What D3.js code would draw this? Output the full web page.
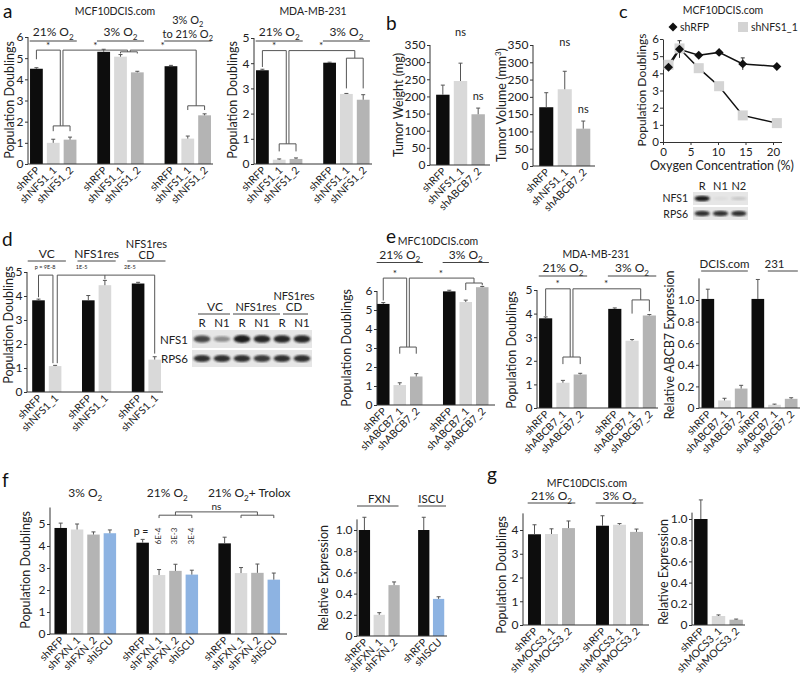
<!DOCTYPE html>
<html><head><meta charset="utf-8">
<script src="https://cdn.jsdelivr.net/npm/d3@7"></script>
<style>
body{margin:0;background:#fff;}
svg{font-family:Lato,"Open Sans",sans-serif;}
</style></head><body>
<svg id="fig" width="800" height="677"></svg>
<script>
// ---------------- DATA ----------------
// a: MCF10DCIS.com
const aMcfGroups = ["21% O2", "3% O2", "3% O2 to 21% O2"];
const aMcfCats = ["shRFP","shNFS1_1","shNFS1_2","shRFP","shNFS1_1","shNFS1_2","shRFP","shNFS1_1","shNFS1_2"];
const aMcfValues = [4.5, 1.0, 1.15, 5.3, 5.07, 4.33, 4.62, 1.2, 2.3];
const aMcfErrors = [0.05, 0.17, 0.12, 0.12, 0.1, 0.05, 0.04, 0.12, 0.07];
// a: MDA-MB-231
const aMdaGroups = ["21% O2", "3% O2"];
const aMdaCats = ["shRFP","shNFS1_1","shNFS1_2","shRFP","shNFS1_1","shNFS1_2"];
const aMdaValues = [3.72, 0.17, 0.2, 4.02, 2.78, 2.55];
const aMdaErrors = [0.04, 0.03, 0.04, 0.02, 0.02, 0.2];
// b
const bCats = ["shRFP","shNFS1_1","shABCB7_2"];
const bWeight = [205, 245, 148];
const bWeightErr = [28, 52, 18];
const bVolume = [170, 222, 108];
const bVolumeErr = [42, 52, 22];
const bWeightTicks = [0,50,100,150,200,250,300,350];
// c
const cOxygen = [1, 3, 6.5, 10.2, 14.5, 20.7];
const cShRFP = [4.35, 5.4, 5.05, 5.22, 4.55, 4.4];
const cShRFPErr = [0.08, 0.5, 0.1, 0.1, 0.35, 0.06];
const cShNFS1 = [4.5, 5.45, 4.3, 3.25, 1.55, 1.1];
const cShNFS1Err = [0.1, 0.2, 0.1, 0.1, 0.08, 0.06];
const cBlotLanes = ["R","N1","N2"];
const cBlotNFS1 = [1.0, 0.05, 0.15];
const cBlotRPS6 = [0.9, 0.9, 0.9];
// d
const dGroups = ["VC", "NFS1res", "NFS1res CD"];
const dCats = ["shRFP","shNFS1_1","shRFP","shNFS1_1","shRFP","shNFS1_1"];
const dValues = [3.82, 1.08, 3.82, 4.45, 4.52, 1.35];
const dErrors = [0.05, 0.03, 0.2, 0.2, 0.05, 0.12];
const dPvalues = ["p = 9E-8", "1E-5", "2E-5"];
const dBlotLanes = ["R","N1","R","N1","R","N1"];
const dBlotNFS1 = [0.8, 0.45, 1.0, 0.95, 0.95, 0.95];
const dBlotRPS6 = [0.9, 0.9, 0.9, 0.85, 0.9, 0.9];
// e
const eCats = ["shRFP","shABCB7_1","shABCB7_2","shRFP","shABCB7_1","shABCB7_2"];
const eMcfValues = [5.32, 1.05, 1.5, 5.98, 5.42, 6.2];
const eMcfErrors = [0.07, 0.12, 0.15, 0.06, 0.1, 0.04];
const eMdaValues = [3.8, 1.07, 1.42, 4.2, 2.85, 3.92];
const eMdaErrors = [0.06, 0.1, 0.05, 0.04, 0.05, 0.04];
const eExprGroups = ["DCIS.com", "231"];
const eExprValues = [1.01, 0.07, 0.18, 1.01, 0.03, 0.085];
const eExprErrors = [0.09, 0.02, 0.03, 0.18, 0.006, 0.01];
// f
const fGroups = ["3% O2", "21% O2", "21% O2+ Trolox"];
const fCats = ["shRFP","shFXN_1","shFXN_2","shISCU","shRFP","shFXN_1","shFXN_2","shISCU","shRFP","shFXN_1","shFXN_2","shISCU"];
const fValues = [4.82, 4.75, 4.52, 4.58, 4.15, 2.68, 2.87, 2.7, 4.12, 2.77, 2.78, 2.47];
const fErrors = [0.22, 0.25, 0.12, 0.15, 0.15, 0.25, 0.3, 0.2, 0.28, 0.25, 0.4, 0.3];
const fPvalues = ["6E-4", "3E-3", "3E-4"];
const fExprGroups = ["FXN", "ISCU"];
const fExprCats = ["shRFP","shFXN_1","shFXN_2","shRFP","shISCU"];
const fExprValues = [1.0, 0.2, 0.48, 1.0, 0.35];
const fExprErrors = [0.12, 0.02, 0.03, 0.12, 0.02];
// g
const gCats = ["shRFP","shMOCS3_1","shMOCS3_2","shRFP","shMOCS3_1","shMOCS3_2"];
const gValues = [3.82, 3.83, 4.08, 4.18, 4.22, 3.92];
const gErrors = [0.4, 0.22, 0.3, 0.42, 0.05, 0.12];
const gExprCats = ["shRFP","shMOCS3_1","shMOCS3_2"];
const gExprValues = [1.0, 0.085, 0.05];
const gExprErrors = [0.18, 0.01, 0.006];

// ---------------- HELPERS ----------------
const svg = d3.select("#fig");
const INK = "#333";
function colorOf(c){
  if (c === "shRFP") return "#0d0d0d";
  if (c === "shISCU") return "#8db3e2";
  if (/_1$/.test(c)) return "#d9d9d9";
  return "#b4b4b4";
}
function txt(x, y, s, size, anchor, g){
  return (g || svg).append("text").attr("x", x).attr("y", y).attr("font-size", size)
    .attr("text-anchor", anchor || "middle").attr("fill", "#222").text(s);
}
function o2(x, y, label, size){
  const idx = label.indexOf("O2");
  const t = svg.append("text").attr("x", x).attr("y", y).attr("font-size", size)
    .attr("text-anchor", "middle").attr("fill", "#222");
  if (idx < 0){ t.text(label); return t; }
  t.append("tspan").text(label.slice(0, idx + 1));
  t.append("tspan").attr("dy", size*0.3).attr("font-size", size*0.68).text("2");
  const rest = label.slice(idx + 2);
  if (rest) t.append("tspan").attr("dy", -size*0.3).text(rest);
  return t;
}
function hline(x1, x2, y){
  svg.append("line").attr("x1", x1).attr("x2", x2).attr("y1", y).attr("y2", y)
    .attr("stroke", "#444").attr("stroke-width", 1);
}
function ylabel(x, y, s, size){
  const t = svg.append("text").attr("transform", `translate(${x},${y}) rotate(-90)`)
    .attr("font-size", size || 12.5).attr("text-anchor", "middle").attr("fill", "#222");
  return t.text(s);
}
function letter(x, y, s, size){ txt(x, y, s, size || 19, "start").attr("fill", "#111"); }

function slotsFor(sizes, gap){
  const out = []; let s = 0;
  sizes.forEach(n => { for (let i = 0; i < n; i++) out.push(s++); s += gap; });
  return out;
}

function barChart(o){
  const nSlots = d3.max(o.slots) + 1;
  const x = d3.scaleLinear().domain([-0.5, nSlots - 0.5]).range(o.xr);
  const y = d3.scaleLinear().domain([0, o.yMax]).range([o.y0, o.yTop]);
  const step = x(1) - x(0), bw = step * (o.bwf || 0.76);
  const g = svg.append("g");
  g.selectAll("rect").data(o.values).join("rect")
    .attr("x", (d, i) => x(o.slots[i]) - bw/2).attr("y", d => y(d))
    .attr("width", bw).attr("height", d => y(0) - y(d))
    .attr("fill", (d, i) => colorOf(o.cats[i]));
  const eb = g.append("g").attr("stroke", "#555").attr("stroke-width", 1);
  o.values.forEach((v, i) => {
    const cx = x(o.slots[i]), yt = y(v + o.errors[i]);
    eb.append("line").attr("x1", cx).attr("x2", cx).attr("y1", y(v)).attr("y2", yt);
    eb.append("line").attr("x1", cx - 2).attr("x2", cx + 2).attr("y1", yt).attr("y2", yt);
  });
  const ax = d3.axisLeft(y).tickValues(o.ticks).tickSize(3).tickSizeOuter(0)
    .tickFormat(o.fmt || d3.format("d"));
  const axg = g.append("g").attr("transform", `translate(${o.axisX},0)`).call(ax);
  axg.select(".domain").remove();
  axg.attr("font-family", null).attr("font-size", null);
  axg.selectAll("text").attr("font-size", o.tickSize || 12).attr("fill", "#222").attr("x", -4.5);
  axg.selectAll("line").attr("stroke", INK);
  g.append("line").attr("x1", o.axisX).attr("x2", o.axisX).attr("y1", y(0)).attr("y2", y(o.axisTop || o.yMax)).attr("stroke", INK);
  g.append("line").attr("x1", o.axisX).attr("x2", o.axisEnd).attr("y1", y(0)).attr("y2", y(0)).attr("stroke", INK);
  g.selectAll("text.cat").data(o.cats).join("text").attr("class", "cat")
    .attr("transform", (d, i) => `translate(${x(o.slots[i]) + 4},${y(0) + 7}) rotate(-45)`)
    .attr("text-anchor", "end").attr("font-size", o.catSize || 10.5).attr("fill", "#222").text(d => d);
  if (o.ylabel) ylabel(o.ylx, o.yly, o.ylabel, o.ylSize);
  return {x, y, g};
}
function bracket(p, pts){
  svg.append("path").attr("d", d3.line().x(d => p.x(d[0])).y(d => p.y(d[1]))(pts))
    .attr("fill", "none").attr("stroke", "#555").attr("stroke-width", 1);
}
function star(p, s, v, label, size){
  txt(p.x(s), p.y(v) - 1.5, label || "*", size || 10);
}
const defs = svg.append("defs");
defs.append("filter").attr("id", "blur").append("feGaussianBlur").attr("stdDeviation", 1.1);
function blot(x0, x1, y0, y1, lanes, intens){
  svg.append("rect").attr("x", x0).attr("y", y0).attr("width", x1 - x0).attr("height", y1 - y0).attr("fill", "#e6e6e6");
  const w = (x1 - x0) / lanes.length;
  intens.forEach((v, i) => {
    svg.append("ellipse").attr("cx", x0 + w*(i + 0.5)).attr("cy", (y0 + y1)/2)
      .attr("rx", w*0.42).attr("ry", (y1 - y0)*0.22 * (0.5 + 0.5*v))
      .attr("fill", "#1a1a1a").attr("opacity", v).attr("filter", "url(#blur)");
  });
}

// ---------------- PANEL a ----------------
letter(3, 18, "a");
const aM = barChart({cats: aMcfCats, values: aMcfValues, errors: aMcfErrors,
  slots: slotsFor([3,3,3], 1), xr: [28, 213], y0: 164, yTop: 37, yMax: 6,
  ticks: [0,1,2,3,4,5,6], axisX: 28, axisEnd: 213,
  ylabel: "Population Doublings", ylx: 14, yly: 100});
txt(115, 15, "MCF10DCIS.com", 10.5);
o2(aM.x(1), 36, aMcfGroups[0], 12); hline(aM.x(-0.4), aM.x(2.4), 41);
o2(aM.x(5), 36, aMcfGroups[1], 12); hline(aM.x(3.6), aM.x(6.4), 41);
o2(aM.x(9), 24, "3% O2", 11); o2(aM.x(9), 37.5, "to 21% O2", 11); hline(aM.x(7.6), aM.x(10.4), 41);
const aTop = 5.38;
bracket(aM, [[0,4.95],[0,aTop],[1.42,aTop],[1.42,1.8]]);
bracket(aM, [[1,1.55],[1,1.8],[2,1.8],[2,1.55]]);
star(aM, 0.7, aTop);
bracket(aM, [[1.58,1.8],[1.58,aTop],[5.42,aTop],[5.42,5.3]]);
bracket(aM, [[5,5.22],[5,5.3],[6,5.3],[6,5.22]]);
star(aM, 3.5, aTop);
bracket(aM, [[5.58,5.3],[5.58,aTop],[9.5,aTop],[9.5,2.75]]);
bracket(aM, [[9,2.55],[9,2.75],[10,2.75],[10,2.55]]);
star(aM, 7.5, aTop);

const aD = barChart({cats: aMdaCats, values: aMdaValues, errors: aMdaErrors,
  slots: slotsFor([3,3], 1), xr: [254, 371.6], y0: 164, yTop: 38, yMax: 5,
  ticks: [0,1,2,3,4,5], axisX: 254, axisEnd: 372,
  ylabel: "Population Doublings", ylx: 237, yly: 100});
txt(313, 15, "MDA-MB-231", 10.5);
o2(aD.x(1), 36, aMdaGroups[0], 12); hline(aD.x(-0.4), aD.x(2.4), 41);
o2(aD.x(5), 36, aMdaGroups[1], 12); hline(aD.x(3.6), aD.x(6.4), 41);
bracket(aD, [[0,3.85],[0,4.5],[1.42,4.5],[1.42,0.8]]);
bracket(aD, [[1,0.5],[1,0.8],[2,0.8],[2,0.5]]);
star(aD, 0.7, 4.5);
bracket(aD, [[1.58,0.8],[1.58,4.5],[5.5,4.5],[5.5,4.2]]);
bracket(aD, [[5,3.0],[5,4.2],[6,4.2],[6,3.0]]);
star(aD, 3.5, 4.5);

// ---------------- PANEL b ----------------
letter(386, 30, "b");
const bW = barChart({cats: bCats, values: bWeight, errors: bWeightErr,
  slots: [0,1,2], xr: [434, 487], y0: 165, yTop: 45, yMax: 350,
  ticks: bWeightTicks, axisX: 430, axisEnd: 490,
  ylabel: "Tumor Weight (mg)", ylx: 403, yly: 105});
txt(bW.x(1), 36, "ns", 11); txt(bW.x(2), 100, "ns", 11);
const bV = barChart({cats: bCats, values: bVolume, errors: bVolumeErr,
  slots: [0,1,2], xr: [537, 592.5], y0: 166, yTop: 45, yMax: 350,
  ticks: bWeightTicks, axisX: 533, axisEnd: 595});
txt(bV.x(1), 46, "ns", 11); txt(bV.x(2), 113, "ns", 11);
{
  const t = svg.append("text").attr("transform", "translate(506,105) rotate(-90)")
    .attr("font-size", 12.5).attr("text-anchor", "middle").attr("fill", "#222");
  t.append("tspan").text("Tumor Volume (mm");
  t.append("tspan").attr("dy", -5).attr("font-size", 8).text("3");
  t.append("tspan").attr("dy", 5).text(")");
}

// ---------------- PANEL c ----------------
letter(619, 18, "c", 18);
txt(723, 14, "MCF10DCIS.com", 10.5);
{
  const x = d3.scaleLinear().domain([0, 22]).range([663, 784]);
  const y = d3.scaleLinear().domain([0, 6]).range([142, 39]);
  const gx = svg.append("g").attr("transform", "translate(0,142)")
    .call(d3.axisBottom(x).tickValues([0,5,10,15,20]).tickFormat(d3.format("d")).tickSize(3).tickSizeOuter(0));
  const gy = svg.append("g").attr("transform", "translate(663,0)")
    .call(d3.axisLeft(y).tickValues([0,1,2,3,4,5,6]).tickFormat(d3.format("d")).tickSize(3).tickSizeOuter(0));
  [gx, gy].forEach(a => { a.attr("font-family", null).attr("font-size", null);
    a.selectAll("text").attr("font-size", 11.5).attr("fill", "#222");
    a.selectAll("line,path").attr("stroke", INK); });
  gy.selectAll("text").attr("x", -4);
  gx.select(".domain").attr("d", "M663,0.5H782");
  const pts1 = cOxygen.map((o, i) => [o, cShRFP[i]]);
  const pts2 = cOxygen.map((o, i) => [o, cShNFS1[i]]);
  const line = d3.line().x(d => x(d[0])).y(d => y(d[1]));
  svg.append("path").attr("d", line(pts2)).attr("fill", "none").attr("stroke", "#111").attr("stroke-width", 1.5);
  svg.append("path").attr("d", line(pts1)).attr("fill", "none").attr("stroke", "#111").attr("stroke-width", 1.5);
  const eg = svg.append("g").attr("stroke", "#333");
  cOxygen.forEach((o, i) => {
    [[cShRFP[i], cShRFPErr[i]], [cShNFS1[i], cShNFS1Err[i]]].forEach(([v, e]) => {
      eg.append("line").attr("x1", x(o)).attr("x2", x(o)).attr("y1", y(v - e)).attr("y2", y(v + e));
      eg.append("line").attr("x1", x(o) - 2).attr("x2", x(o) + 2).attr("y1", y(v + e)).attr("y2", y(v + e));
    });
  });
  svg.selectAll("rect.sq").data(pts2).join("rect").attr("class", "sq")
    .attr("x", d => x(d[0]) - 5).attr("y", d => y(d[1]) - 5).attr("width", 10).attr("height", 10).attr("fill", "#d4d4d4");
  svg.selectAll("path.dm").data(pts1).join("path").attr("class", "dm")
    .attr("d", d3.symbol(d3.symbolSquare, 40))
    .attr("transform", d => `translate(${x(d[0])},${y(d[1])}) rotate(45)`).attr("fill", "#111");
  svg.append("path").attr("d", d3.symbol(d3.symbolSquare, 40)).attr("transform", "translate(673,27) rotate(45)").attr("fill", "#111");
  txt(680, 31, "shRFP", 10.5, "start");
  svg.append("rect").attr("x", 738).attr("y", 22).attr("width", 10).attr("height", 10).attr("fill", "#d4d4d4");
  txt(751, 31, "shNFS1_1", 10.5, "start");
  ylabel(646, 90, "Population Doublings", 12);
  txt(722, 170, "Oxygen Concentration (%)", 12.5);
  cBlotLanes.forEach((l, i) => txt(693 + 55/3*(i + 0.5), 190, l, 11));
  blot(693, 748, 192, 205, cBlotLanes, cBlotNFS1);
  blot(693, 748, 207, 220, cBlotLanes, cBlotRPS6);
  txt(688, 202, "NFS1", 10.5, "end");
  txt(688, 218, "RPS6", 10.5, "end");
}

// ---------------- PANEL d ----------------
letter(2, 246, "d");
const dP = barChart({cats: dCats, values: dValues, errors: dErrors,
  slots: slotsFor([2,2,2], 1), xr: [30.2, 163], y0: 392, yTop: 272, yMax: 5,
  ticks: [0,1,2,3,4,5], axisX: 27, axisEnd: 163,
  ylabel: "Population Doublings", ylx: 13, yly: 325});
o2(dP.x(0.5), 258, dGroups[0], 12); hline(dP.x(-0.65), dP.x(1.65), 261);
o2(dP.x(3.5), 258, dGroups[1], 12); hline(dP.x(2.35), dP.x(4.65), 261);
txt(dP.x(6.5), 247.5, "NFS1res", 11); txt(dP.x(6.5), 258.5, "CD", 11); hline(dP.x(5.35), dP.x(7.65), 261);
bracket(dP, [[0,3.95],[0,4.87],[0.87,4.87],[0.87,1.2]]);
bracket(dP, [[1.13,1.2],[1.13,4.87],[7,4.87],[7,1.6]]);
bracket(dP, [[4,4.87],[4,4.7]]);
txt(dP.x(0.4), 269, dPvalues[0], 5.5);
txt(dP.x(2.6), 269, dPvalues[1], 5.5);
txt(dP.x(5.5), 269, dPvalues[2], 5.5);
{
  const x0 = 192, x1 = 312, w = (x1 - x0) / dBlotLanes.length;
  txt(215, 311, "VC", 12); hline(198, 230, 314);
  txt(256, 311, "NFS1res", 11); hline(233, 280, 314);
  txt(294, 300, "NFS1res", 11); txt(294, 311, "CD", 11.5); hline(283, 308, 314);
  dBlotLanes.forEach((l, i) => txt(x0 + w*(i + 0.5), 327, l, 11.5));
  blot(x0, x1, 330, 348, dBlotLanes, dBlotNFS1);
  blot(x0, x1, 350, 367, dBlotLanes, dBlotRPS6);
  txt(188, 344, "NFS1", 11.5, "end");
  txt(188, 363, "RPS6", 11.5, "end");
}

// ---------------- PANEL e ----------------
letter(386, 243, "e");
const e1 = barChart({cats: eCats, values: eMcfValues, errors: eMcfErrors,
  slots: slotsFor([3,3], 1), xr: [375, 490.5], y0: 405, yTop: 291, yMax: 6,
  ticks: [0,1,2,3,4,5,6], axisX: 377, axisEnd: 495,
  ylabel: "Population Doublings", ylx: 351, yly: 348});
txt(438, 245, "MFC10DCIS.com", 10.5);
o2(e1.x(1), 258.5, "21% O2", 12); hline(e1.x(-0.4), e1.x(2.4), 262.5);
o2(e1.x(5), 258.5, "3% O2", 12); hline(e1.x(3.6), e1.x(6.4), 262.5);
bracket(e1, [[0,5.5],[0,6.68],[1.42,6.68],[1.42,3.05]]);
bracket(e1, [[1,2.7],[1,3.05],[2,3.05],[2,2.7]]);
star(e1, 0.7, 6.68);
bracket(e1, [[1.58,3.05],[1.58,6.68],[5.5,6.68],[5.5,6.42]]);
bracket(e1, [[5,6.05],[5,6.42],[6,6.42],[6,6.3]]);
star(e1, 3.5, 6.68);

const e2 = barChart({cats: eCats, values: eMdaValues, errors: eMdaErrors,
  slots: slotsFor([3,3], 1), xr: [537, 658], y0: 408, yTop: 290, yMax: 5,
  ticks: [0,1,2,3,4,5], axisX: 537, axisEnd: 658,
  ylabel: "Population Doublings", ylx: 516, yly: 350});
txt(596, 258, "MDA-MB-231", 10.5);
o2(e2.x(1), 272, "21% O2", 12); hline(e2.x(-0.4), e2.x(2.4), 276);
o2(e2.x(5), 272, "3% O2", 12); hline(e2.x(3.6), e2.x(6.4), 276);
bracket(e2, [[0,3.9],[0,5.05],[1.42,5.05],[1.42,2.16]]);
bracket(e2, [[1,1.86],[1,2.16],[2,2.16],[2,1.86]]);
star(e2, 0.7, 5.05);
bracket(e2, [[1.58,2.16],[1.58,5.05],[5.5,5.05],[5.5,4.58]]);
bracket(e2, [[5,4.0],[5,4.58],[6,4.58],[6,4.1]]);
star(e2, 3.5, 5.05);

const e3 = barChart({cats: eCats, values: eExprValues, errors: eExprErrors,
  slots: [0,1,2,3,4,5], xr: [699.5, 799.5], y0: 408, yTop: 300, yMax: 1.0,
  ticks: [0,0.2,0.4,0.6,0.8,1.0], fmt: d => d === 0 ? "0" : d3.format(".1f")(d),
  axisX: 699, axisEnd: 800, axisTop: 1.2,
  ylabel: "Relative ABCB7 Expression", ylx: 674, yly: 345});
txt(e3.x(1), 268, eExprGroups[0], 11.5); hline(e3.x(-0.4), e3.x(2.4), 271);
txt(e3.x(4), 268, eExprGroups[1], 11.5); hline(e3.x(3.6), e3.x(5.4), 271);

// ---------------- PANEL f ----------------
letter(2, 487, "f");
const f1 = barChart({cats: fCats, values: fValues, errors: fErrors,
  slots: slotsFor([4,4,4], 1), xr: [52.5, 282], y0: 634, yTop: 524, yMax: 5,
  ticks: [0,1,2,3,4,5], axisX: 50, axisEnd: 287, axisTop: 5.75,
  ylabel: "Population Doublings", ylx: 30, yly: 570});
fGroups.forEach((gname, i) => o2(f1.x(1.5 + 5*i), 497, gname, 12));
txt(f1.x(4.9), 535, "p =", 10.5);
fPvalues.forEach((p, i) => {
  svg.append("text").attr("transform", `translate(${f1.x(6 + i) + 2},536) rotate(-90)`)
    .attr("font-size", 8).attr("text-anchor", "middle").attr("fill", "#333").text(p);
});
bracket(f1, [[7,5.4],[7,5.55],[12,5.55],[12,5.4]]);
bracket(f1, [[6,5.27],[6,5.4],[8,5.4],[8,5.27]]);
bracket(f1, [[11,5.27],[11,5.4],[13,5.4],[13,5.27]]);
txt(f1.x(9.5), 510, "ns", 10);

const f2 = barChart({cats: fExprCats, values: fExprValues, errors: fExprErrors,
  slots: slotsFor([3,2], 1), xr: [357, 446], y0: 636, yTop: 530, yMax: 1.0,
  ticks: [0,0.2,0.4,0.6,0.8,1.0], fmt: d => d === 0 ? "0" : d3.format(".1f")(d),
  axisX: 357, axisEnd: 447, axisTop: 1.1,
  ylabel: "Relative Expression", ylx: 328, yly: 578});
txt(f2.x(1), 503, fExprGroups[0], 11.5); hline(f2.x(-0.5), f2.x(2.3), 506);
txt(f2.x(4.5), 503, fExprGroups[1], 11.5); hline(f2.x(3.6), f2.x(5.5), 506);

// ---------------- PANEL g ----------------
letter(487, 481, "g");
const g1 = barChart({cats: gCats, values: gValues, errors: gErrors,
  slots: slotsFor([3,3], 1), xr: [526, 645], y0: 625, yTop: 530, yMax: 4,
  ticks: [0,1,2,3,4], axisX: 523, axisEnd: 649, axisTop: 4.7,
  ylabel: "Population Doublings", ylx: 506, yly: 575});
txt(587, 487, "MFC10DCIS.com", 10.5);
o2(g1.x(1), 500, "21% O2", 12); hline(g1.x(-0.4), g1.x(2.4), 503);
o2(g1.x(5), 500, "3% O2", 12); hline(g1.x(3.6), g1.x(6.4), 503);
const g2 = barChart({cats: gExprCats, values: gExprValues, errors: gExprErrors,
  slots: [0,1,2], xr: [692, 745], y0: 625, yTop: 519, yMax: 1.0,
  ticks: [0,0.2,0.4,0.6,0.8,1.0], fmt: d => d === 0 ? "0" : d3.format(".1f")(d),
  axisX: 692, axisEnd: 745, axisTop: 1.06,
  ylabel: "Relative Expression", ylx: 668, yly: 572});
</script></body></html>
